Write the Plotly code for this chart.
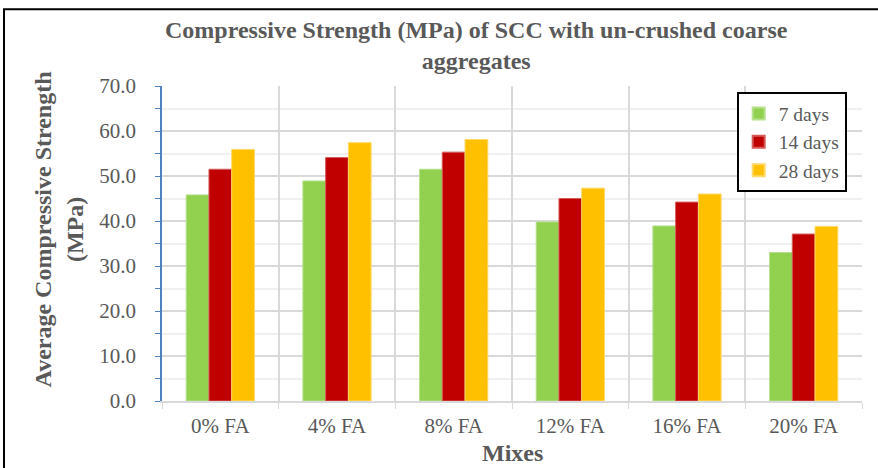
import plotly.graph_objects as go

categories = ["0% FA", "4% FA", "8% FA", "12% FA", "16% FA", "20% FA"]
days7 = [45.8, 48.9, 51.5, 39.8, 38.9, 33.0]
days14 = [51.5, 54.1, 55.3, 45.0, 44.2, 37.1]
days28 = [55.9, 57.4, 58.1, 47.3, 46.0, 38.8]
series_names = ["7 days", "14 days", "28 days"]
colors = ["#92D050", "#C00000", "#FFC000"]
edge_colors = ["#b5e08c", "#d65a5a", "#ffd866"]

FONT = "Liberation Serif, Times New Roman, serif"
GRAY = "#595959"

fig = go.Figure()
for name, vals, c, ec in zip(series_names, [days7, days14, days28], colors, edge_colors):
    fig.add_trace(go.Bar(x=categories, y=vals, name=name, marker=dict(color=c, line=dict(color=ec, width=1))))

fig.update_layout(
    width=878, height=468,
    margin=dict(l=162, r=16, t=86, b=67),
    paper_bgcolor="white", plot_bgcolor="white",
    barmode="group", bargap=0.415, bargroupgap=0,
    font=dict(family=FONT, color=GRAY, size=21),
    showlegend=True,
    legend=dict(x=0.821, y=0.98, xanchor="left", yanchor="top",
                bgcolor="white", bordercolor="black", borderwidth=2,
                font=dict(size=19.5, color=GRAY), itemsizing="constant",
                tracegroupgap=0),
    xaxis=dict(
        type="category", tickson="boundaries", showgrid=True, gridcolor="#d9d9d9", gridwidth=1.5,
        showline=True, linecolor="#d9d9d9", linewidth=1.5,
        ticks="outside", ticklen=6, tickcolor="#d9d9d9",
        tickfont=dict(size=21, color=GRAY, family=FONT), ticklabelstandoff=5,
        mirror=False,
    ),
    yaxis=dict(
        range=[0, 70], dtick=10, tickformat=".1f",
        showgrid=True, gridcolor="#d9d9d9", gridwidth=1.5,
        showline=True, linecolor="#4f81bd", linewidth=1.5,
        ticks="outside", ticklen=5, tickcolor="#4f81bd",
        tickfont=dict(size=21, color=GRAY, family=FONT), ticklabelstandoff=15,
        minor=dict(dtick=5, showgrid=True, gridcolor="#f0f0f0", gridwidth=1.5,
                   ticks="outside", ticklen=5, tickcolor="#4f81bd"),
        zeroline=False,
    ),
    annotations=[
        dict(text="<b>Compressive Strength (MPa) of SCC with un-crushed coarse<br>aggregates</b>",
             x=0.449, y=1.130, xref="paper", yref="paper", xanchor="center", yanchor="middle",
             showarrow=False, font=dict(size=24, color=GRAY, family=FONT)),
        dict(text="<b>Average Compressive Strength<br>(MPa)</b>",
             x=-0.148, y=0.546, xref="paper", yref="paper", xanchor="center", yanchor="middle",
             textangle=-90, showarrow=False, font=dict(size=24, color=GRAY, family=FONT)),
        dict(text="<b>Mixes</b>",
             x=0.5, y=-0.165, xref="paper", yref="paper", xanchor="center", yanchor="middle",
             showarrow=False, font=dict(size=24, color=GRAY, family=FONT)),
    ],
    shapes=[
        dict(type="rect", xref="paper", yref="paper", x0=-0.2257, x1=1.03, y0=-0.23, y1=1.244,
             line=dict(color="black", width=2), fillcolor="rgba(0,0,0,0)", layer="above"),
    ],
)

fig.write_html("out.html", config={"displayModeBar": False},
               post_script="document.body.style.margin='0';")
